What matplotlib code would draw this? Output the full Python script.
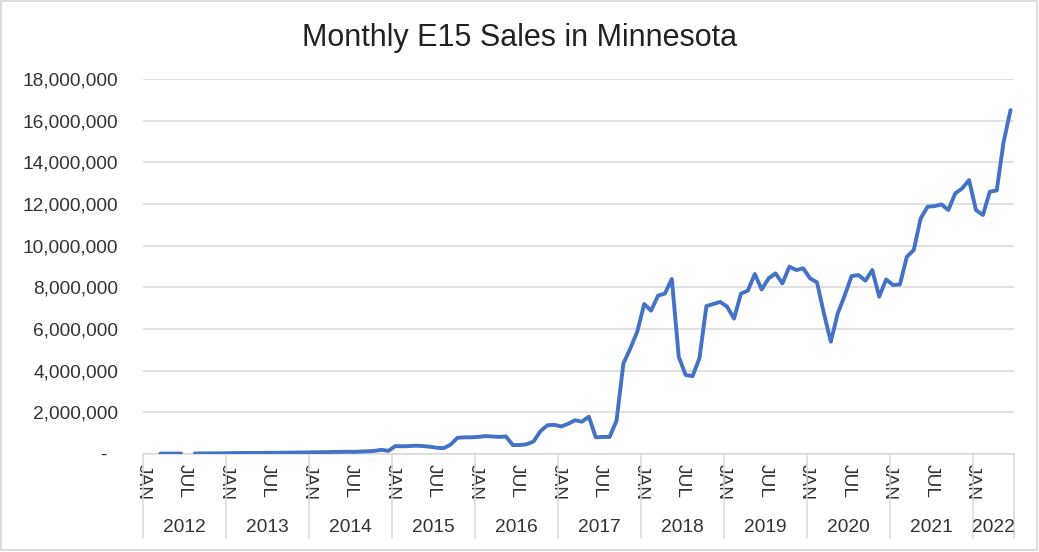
import numpy as np
import matplotlib
matplotlib.use("Agg")
import matplotlib.pyplot as plt
from matplotlib.patches import Rectangle
import matplotlib.transforms as mtransforms

# ---- data (gallons per month), NaN = no data ----
years = [2012, 2013, 2014, 2015, 2016, 2017, 2018, 2019, 2020, 2021, 2022]
month_labels = ["JAN", "JUL"]
nan = np.nan
sales_2012 = [nan, nan, 20000, 20000, 20000, 22000, nan, 25000, 28000, 30000, 32000, 35000]
sales_2013 = [40000, 45000, 48000, 55000, 50000, 55000, 60000, 55000, 62000, 68000, 70000, 75000]
sales_2014 = [80000, 85000, 90000, 100000, 100000, 110000, 100000, 120000, 130000, 150000, 200000, 150000]
sales_2015 = [380000, 370000, 380000, 400000, 380000, 350000, 300000, 280000, 450000, 780000, 800000, 800000]
sales_2016 = [820000, 860000, 840000, 820000, 840000, 430000, 430000, 470000, 600000, 1100000, 1380000, 1400000]
sales_2017 = [1320000, 1450000, 1620000, 1550000, 1790000, 800000, 820000, 820000, 1600000, 4350000, 5070000, 5870000]
sales_2018 = [7200000, 6880000, 7600000, 7700000, 8400000, 4670000, 3790000, 3740000, 4600000, 7100000, 7200000, 7300000]
sales_2019 = [7070000, 6500000, 7700000, 7840000, 8640000, 7900000, 8430000, 8670000, 8190000, 8990000, 8830000, 8910000]
sales_2020 = [8430000, 8240000, 6750000, 5390000, 6750000, 7600000, 8540000, 8590000, 8320000, 8830000, 7550000, 8380000]
sales_2021 = [8110000, 8140000, 9470000, 9790000, 11310000, 11870000, 11900000, 11980000, 11710000, 12510000, 12750000, 13150000]
sales_2022 = [11710000, 11470000, 12590000, 12650000, 14990000, 16510000]
y_ticks = [0, 2000000, 4000000, 6000000, 8000000, 10000000, 12000000, 14000000, 16000000, 18000000]

sales = np.array(sales_2012 + sales_2013 + sales_2014 + sales_2015 + sales_2016 +
                 sales_2017 + sales_2018 + sales_2019 + sales_2020 + sales_2021 +
                 sales_2022, dtype=float)
n = len(sales)
x = np.arange(n) + 0.5

plt.rcParams["font.family"] = ["Liberation Sans", "DejaVu Sans"]
txt = "#333333"
grid_c = "#d9d9d9"

fig = plt.figure(figsize=(10.39, 5.52), dpi=100)
W, H = 1039, 552
L, R, T, B = 143, 1014, 79, 454
ax = fig.add_axes([L / W, 1 - B / H, (R - L) / W, (B - T) / H])

ax.plot(x, sales, color="#4472C4", lw=2.8, solid_capstyle="round",
        solid_joinstyle="round", zorder=3)

ax.set_xlim(0, n)
ax.set_ylim(0, 18000000)
ax.set_yticks(y_ticks)
ax.set_yticklabels(["-  " if v == 0 else f"{v:,.0f}" for v in y_ticks])
ax.yaxis.grid(True, color=grid_c, lw=1.1)
ax.set_axisbelow(True)
for s in ["top", "right", "left"]:
    ax.spines[s].set_visible(False)
ax.spines["bottom"].set_color(grid_c)
ax.spines["bottom"].set_linewidth(1.1)
ax.tick_params(axis="y", length=0, pad=18, labelsize=13.8, labelcolor=txt)

xt = list(range(0, n, 6))
ax.set_xticks(xt)
ax.set_xticklabels([month_labels[(i // 6) % 2] for i in xt], rotation=-90)
ax.tick_params(axis="x", length=0, pad=7, labelsize=13.8, labelcolor=txt)

trans = mtransforms.blended_transform_factory(ax.transData, ax.transAxes)
sep_bottom = (B - 538) / (B - T)
year_y = (B - 527) / (B - T)
bounds = list(range(0, n, 12)) + [n]
for b in bounds:
    ax.plot([b, b], [0, sep_bottom], transform=trans, color=grid_c, lw=1.1,
            clip_on=False, zorder=1)
for i, yr in enumerate(years):
    a = bounds[i]
    e = bounds[i + 1]
    ax.text((a + e) / 2, year_y, str(yr), transform=trans, ha="center",
            va="center", fontsize=13.8, color=txt)

fig.text(0.5, 1 - 38 / H, "Monthly E15 Sales in Minnesota", ha="center",
         va="center", fontsize=22, color="#222222")

fig.patches.append(Rectangle((0.0005, 0.004), 0.998, 0.994, transform=fig.transFigure,
                             fill=False, edgecolor="#d5d5d5", lw=1.2))

fig.savefig("out.png", dpi=100)
